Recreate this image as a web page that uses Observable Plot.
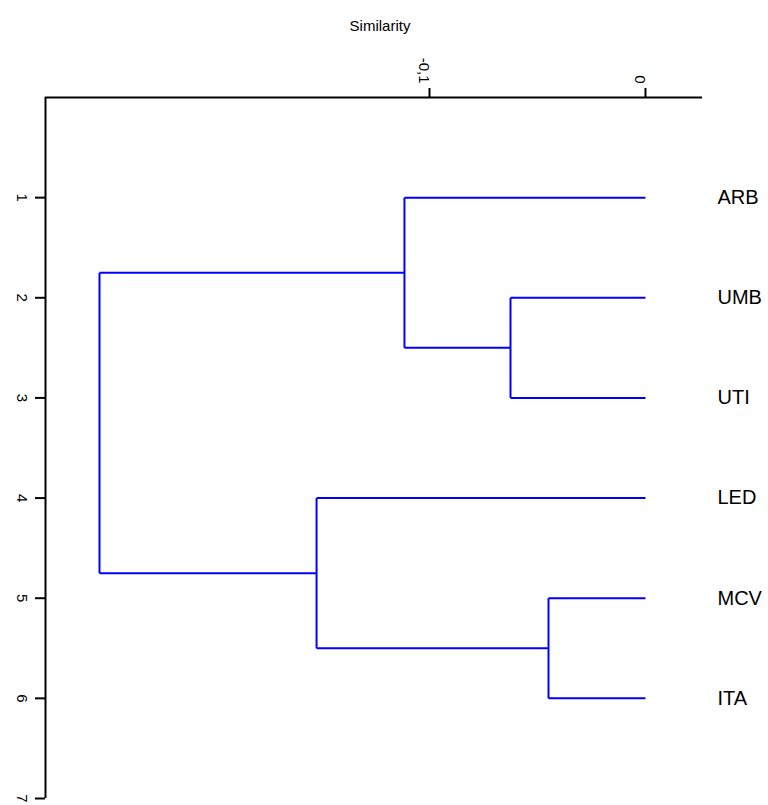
<!DOCTYPE html>
<html>
<head>
<meta charset="utf-8">
<script src="https://cdn.jsdelivr.net/npm/d3@7"></script>
<script src="https://cdn.jsdelivr.net/npm/@observablehq/plot@0.6"></script>
<style>
  html, body { margin: 0; padding: 0; background: #fff; }
  #chart svg { display: block; }
</style>
</head>
<body>
<div id="chart"></div>
<script>
// Leaves (top to bottom) and their row positions
const leaves = ["ARB", "UMB", "UTI", "LED", "MCV", "ITA"];
const leafRows = [1, 2, 3, 4, 5, 6];
// Merges: [left child, right child, similarity]; children index leaves (0..5) or merges (as "m<i>")
const mergeLeft  = [1,    0,    4,    3,    "m1"];
const mergeRight = [2,    "m0", 5,    "m2", "m3"];
const mergeSim   = [-0.0625, -0.1116, -0.0449, -0.1523, -0.2528];

const xTicks = [-0.1, 0];
const xTickLabels = ["-0,1", "0"];
const yTicks = [1, 2, 3, 4, 5, 6, 7];
const xDomain = [-0.2778, 0.0264];
const yDomain = [0, 7];

// Build node positions
const nodes = {};
leaves.forEach((name, i) => { nodes[i] = {x: 0, y: leafRows[i]}; });
const segs = [];
mergeSim.forEach((h, i) => {
  const a = nodes[mergeLeft[i]], b = nodes[mergeRight[i]];
  segs.push({x1: a.x, y1: a.y, x2: h, y2: a.y});
  segs.push({x1: b.x, y1: b.y, x2: h, y2: b.y});
  segs.push({x1: h, y1: a.y, x2: h, y2: b.y});
  nodes["m" + i] = {x: h, y: (a.y + b.y) / 2};
});

const leafData = leaves.map((name, i) => ({name, y: leafRows[i]}));
const xTickData = xTicks.map((v, i) => ({v, label: xTickLabels[i]}));

const chart = Plot.plot({
  width: 768,
  height: 805,
  marginLeft: 45,
  marginRight: 66,
  marginTop: 97,
  marginBottom: 7,
  style: {fontFamily: "'Liberation Sans', Arial, sans-serif", background: "#fff"},
  x: {domain: xDomain, axis: null},
  y: {domain: yDomain, reverse: true, axis: null},
  marks: [
    Plot.ruleY([yDomain[0]], {stroke: "#000", strokeWidth: 2}),
    Plot.ruleX([xDomain[0]], {stroke: "#000", strokeWidth: 2}),
    Plot.axisX({anchor: "top", ticks: xTicks, tickSize: 10, tickFormat: () => "", tickPadding: 0, strokeWidth: 2, label: null}),
    Plot.axisY({anchor: "left", ticks: yTicks, tickSize: 10, tickFormat: () => "", tickPadding: 0, strokeWidth: 2, label: null}),
    Plot.text(xTickData, {x: "v", frameAnchor: "top", text: "label", rotate: 90, textAnchor: "end", dy: -14, fontSize: 15, fill: "#000"}),
    Plot.text(yTicks, {y: d => d, frameAnchor: "left", text: d => String(d), rotate: 90, textAnchor: "middle", dx: -24, fontSize: 15, fill: "#000"}),
    Plot.text(["Similarity"], {frameAnchor: "top", dy: -77, dx: 6, fontSize: 15, fill: "#000"}),
    Plot.link(segs, {x1: "x1", y1: "y1", x2: "x2", y2: "y2", stroke: "#0000ff", strokeWidth: 2}),
    Plot.text(leafData, {x: 0, y: "y", text: "name", textAnchor: "start", dx: 72, fontSize: 20, fill: "#000"})
  ]
});
document.getElementById("chart").appendChild(chart);
</script>
</body>
</html>
